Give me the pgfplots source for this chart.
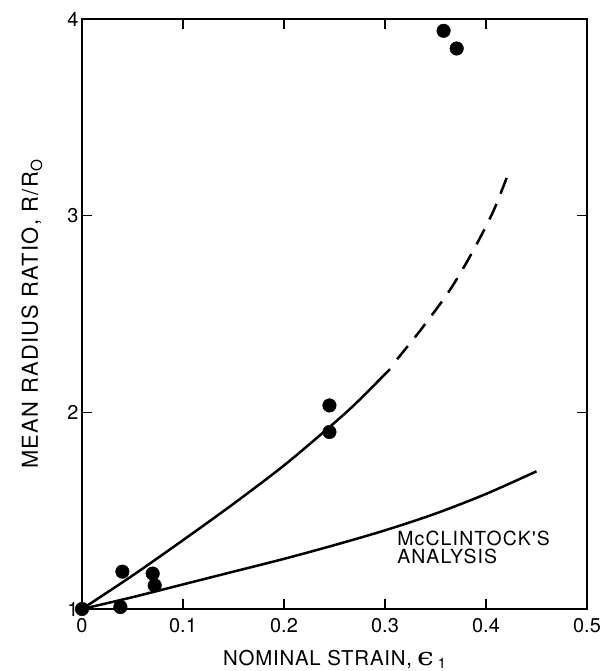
\documentclass[border=0pt]{standalone}
\usepackage{graphicx}
\usepackage{pgfplots}
\pgfplotsset{compat=1.18}
\usepackage{fontspec}
\setmainfont{TeX Gyre Heros}
\newfontfamily\lbl[LetterSpace=6]{TeX Gyre Heros}
\newfontfamily\xlbl[LetterSpace=4]{TeX Gyre Heros}
\newfontfamily\epsfont{DejaVu Serif}
\begin{document}
\begin{tikzpicture}
\path[use as bounding box] (-82bp,-62bp) rectangle (524bp,609bp);
\begin{axis}[
  scale only axis, width=505bp, height=590bp,
  xmin=0, xmax=0.5, ymin=1, ymax=4,
  xtick={0,0.1,0.2,0.3,0.4,0.5}, xticklabels={0,0.1,0.2,0.3,0.4,0.5},
  ytick={1,2,3,4}, yticklabels={1,2,3,4},
  /pgf/number format/assume math mode=true,
  tick align=inside, major tick length=10bp,
  axis line style={line width=1.5bp},
  every tick/.style={line width=1.2bp, black},
  tick label style={font=\fontsize{20}{21}\selectfont},
  xticklabel style={yshift=-6bp},
  xlabel={NOMINAL STRAIN,\hspace{5bp}{\epsfont\fontsize{25}{25}\selectfont\scalebox{1.2}[1]{ϵ}}\hspace{4bp}\raisebox{-3bp}{\fontsize{14.5}{15}\selectfont 1}},
  ylabel={MEAN RADIUS RATIO, R/R\textsubscript{O}},
  xlabel style={font=\xlbl\fontsize{20.5}{21}\selectfont, at={(axis description cs:0.5,-0.0966)}, anchor=base},
  ylabel style={font=\lbl\fontsize{22}{23}\selectfont, at={(axis description cs:-0.099,0.5)}, anchor=center},
  clip=false,
]
% data points
\addplot[only marks, mark=*, mark size=6.8bp, black] coordinates {
  (0,1) (0.038,1.01) (0.04,1.19) (0.07,1.18) (0.072,1.12)
  (0.245,2.035) (0.245,1.90) (0.358,3.94) (0.371,3.85)
};
% upper solid curve
\addplot[line width=2.5bp, smooth, black] coordinates {
  (0,1) (0.05,1.17) (0.1,1.35) (0.15,1.535) (0.2,1.73) (0.245,1.925) (0.27,2.04) (0.305,2.22)
};
% upper dashed continuation
\addplot[line width=2.5bp, smooth, black, dash pattern=on 17bp off 11bp] coordinates {
  (0.312,2.27) (0.337,2.43) (0.364,2.62) (0.386,2.81) (0.407,3.02) (0.424,3.24)
};
% McClintock's analysis
\addplot[line width=2.5bp, smooth, black] coordinates {
  (0,1) (0.05,1.06) (0.1,1.125) (0.15,1.19) (0.2,1.255) (0.25,1.325) (0.3,1.40) (0.35,1.485) (0.4,1.585) (0.45,1.70)
};
\node[anchor=north west, inner sep=0pt, align=left, font=\lbl\fontsize{19.5}{19}\selectfont]
  at (axis cs:0.312,1.40) {McCLINTOCK'S\\ANALYSIS};
\end{axis}
\end{tikzpicture}
\end{document}
